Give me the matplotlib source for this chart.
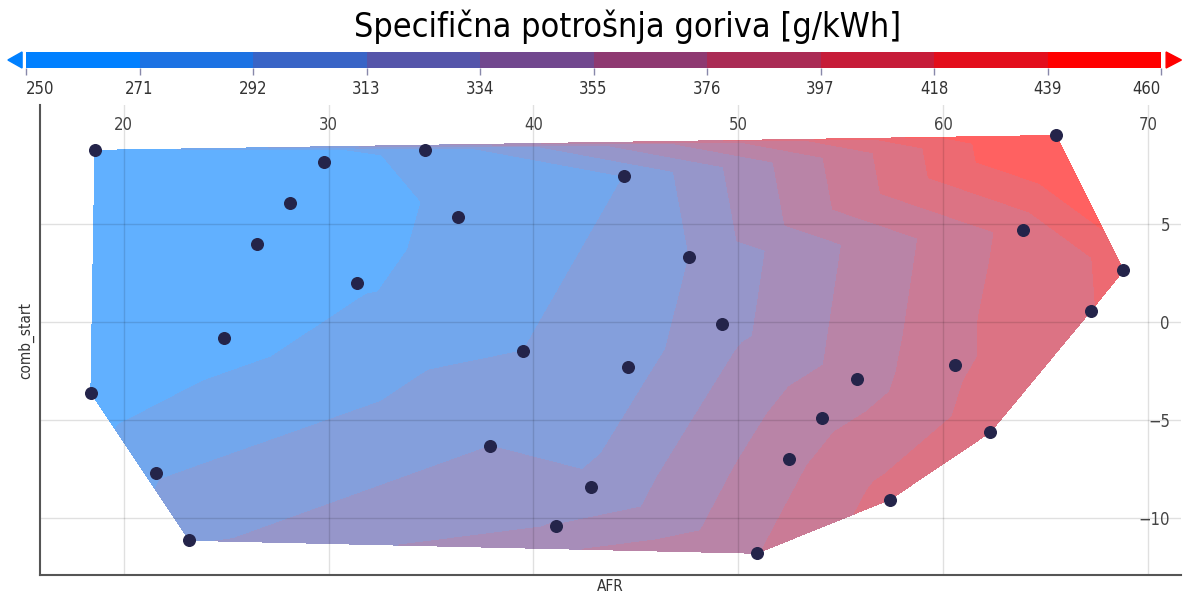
import numpy as np
import matplotlib
matplotlib.use("Agg")
import matplotlib.pyplot as plt
import matplotlib.cm as cm
from matplotlib.colors import ListedColormap, BoundaryNorm
from matplotlib.patches import Polygon

# measured points: AFR, combustion start, specific fuel consumption
afr = [18.6, 29.8, 34.7, 28.1, 36.3, 26.5, 31.4, 44.4, 47.6, 49.2,
       65.5, 63.9, 68.8, 67.2, 24.9, 18.4, 39.5, 44.6, 55.8, 60.6,
       54.1, 62.3, 37.9, 52.5, 21.6, 42.8, 57.4, 41.1, 23.2, 50.9]
comb_start = [8.76, 8.15, 8.8, 6.08, 5.37, 4.0, 1.97, 7.44, 3.34, -0.1,
              9.52, 4.71, 2.63, 0.56, -0.81, -3.6, -1.47, -2.28, -2.89, -2.18,
              -4.91, -5.62, -6.33, -6.99, -7.7, -8.4, -9.06, -10.43, -11.14, -11.8]
bsfc = [252, 263, 277, 257, 274, 256, 268, 292, 313, 325,
        474, 405, 424, 417, 262, 258, 292, 305, 365, 393,
        370, 410, 313, 370, 290, 316, 405, 335, 310, 375]

levels = [250, 271, 292, 313, 334, 355, 376, 397, 418, 439, 460]
x_ticks = [20, 30, 40, 50, 60, 70]
y_ticks = [-10, -5, 0, 5]

plt.rcParams["font.family"] = ["Liberation Sans Narrow", "DejaVu Sans"]
plt.rcParams["font.stretch"] = "condensed"

# blue -> red, one flat colour per band
blue = np.array([0, 128, 255]) / 255
red = np.array([255, 0, 0]) / 255
n_bands = len(levels) - 1
band_colors = [blue + (red - blue) * i / (n_bands - 1) for i in range(n_bands)]
cmap = ListedColormap(band_colors)
cmap.set_under(blue)
cmap.set_over(red)
norm = BoundaryNorm(levels, n_bands)

# the filled area is see-through over white; pre-mix so band seams don't show
fill_alpha = 0.62
fill_cmap = ListedColormap([1 - fill_alpha * (1 - c) for c in band_colors])
fill_cmap.set_under(1 - fill_alpha * (1 - blue))
fill_cmap.set_over(1 - fill_alpha * (1 - red))

fig = plt.figure(figsize=(11.84, 5.99), dpi=100)
ax = fig.add_axes([0.0338, 0.04, 0.9637, 0.7846])

ax.tricontourf(afr, comb_start, bsfc, levels=levels, cmap=fill_cmap, norm=norm,
               extend="both", antialiased=False, zorder=1)
ax.scatter(afr, comb_start, s=70, color="#24244a", zorder=3)

ax.set_xlim(15.92, 71.61)
ax.set_ylim(-12.91, 11.07)
ax.set_xticks(x_ticks)
ax.set_yticks(y_ticks)
ax.grid(True, color="black", alpha=0.12, linewidth=1.0, zorder=2)

# tick labels sit inside the plot: x on top, y on the right
ax.tick_params(axis="x", top=False, bottom=False, labeltop=True, labelbottom=False,
               length=0, pad=-21, labelsize=12, labelcolor="#444444")
ax.tick_params(axis="y", left=False, right=False, labelleft=False, labelright=True,
               length=0, pad=-8, labelsize=12, labelcolor="#444444")
for lbl in ax.get_yticklabels():
    lbl.set_horizontalalignment("right")

for side in ["top", "right"]:
    ax.spines[side].set_visible(False)
for side in ["left", "bottom"]:
    ax.spines[side].set_color("#555555")
    ax.spines[side].set_linewidth(1.5)

ax.set_xlabel("AFR", fontsize=11, color="#333333", labelpad=3)
ax.set_ylabel("comb_start", fontsize=11, color="#333333", labelpad=4)

# colour bar on top
cax = fig.add_axes([0.022, 0.8865, 0.9586, 0.0267])
cb = fig.colorbar(cm.ScalarMappable(norm=norm, cmap=cmap), cax=cax,
                  orientation="horizontal", ticks=levels)
cb.outline.set_visible(False)
cax.tick_params(axis="x", length=5, width=1, color="#8888aa", labelsize=12,
                labelcolor="#333333", pad=4)
cb_labels = cax.get_xticklabels()
cb_labels[0].set_horizontalalignment("left")
cb_labels[-1].set_horizontalalignment("right")

# detached extension arrows
cax.add_patch(Polygon([[-0.016, 0.5], [-0.0035, 1.0], [-0.0035, 0.0]],
                      closed=True, color=blue, transform=cax.transAxes, clip_on=False))
cax.add_patch(Polygon([[1.0045, 1.0], [1.0045, 0.0], [1.018, 0.5]],
                      closed=True, color=red, transform=cax.transAxes, clip_on=False))

fig.text(0.53, 0.955, "Specifična potrošnja goriva [g/kWh]", fontsize=24.5,
         ha="center", va="center", color="black")

fig.savefig("out.png", dpi=100)
